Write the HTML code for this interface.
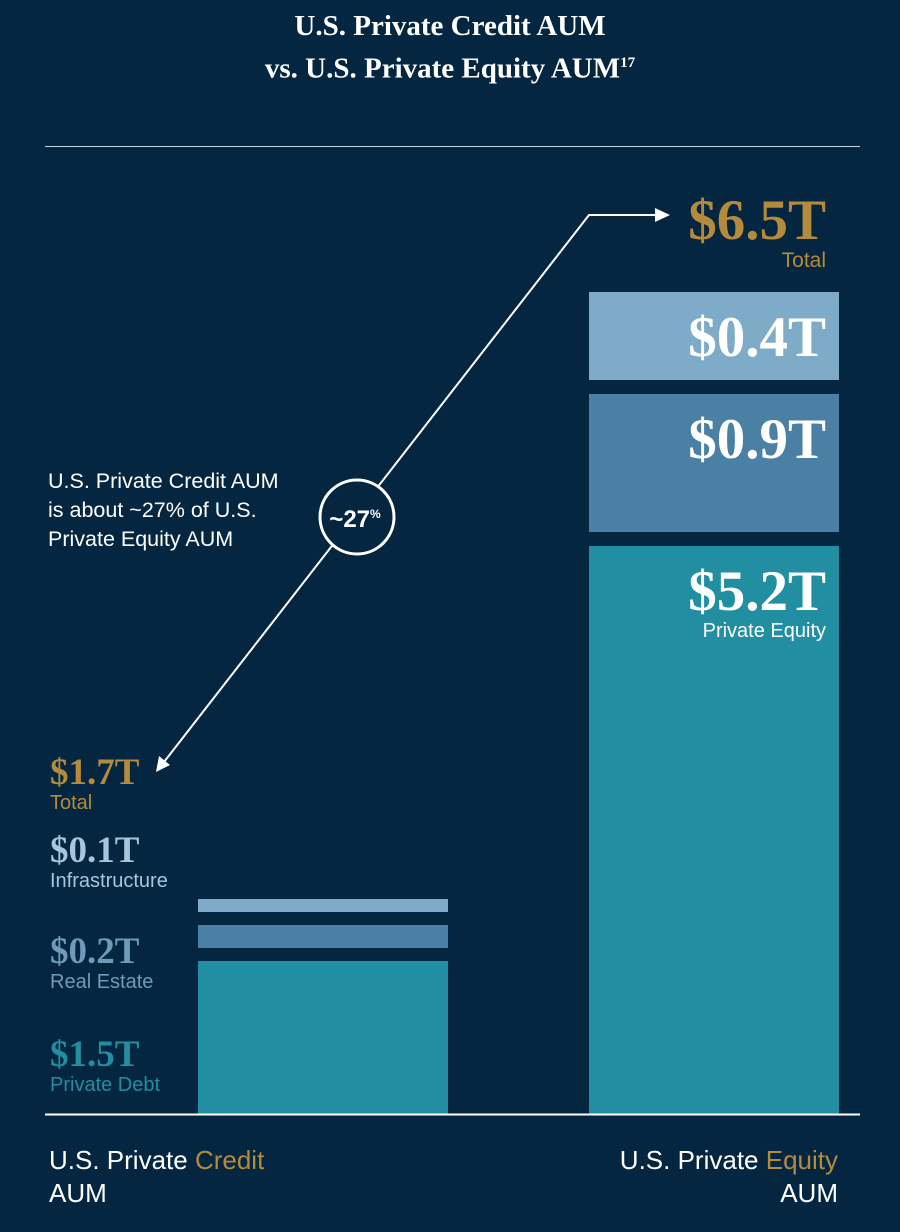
<!DOCTYPE html>
<html><head><meta charset="utf-8"><style>
body{margin:0;background:#042640;}
#c{position:relative;width:900px;height:1232px;background:#042640;overflow:hidden;font-family:"Liberation Sans",sans-serif;}
.t{position:absolute;white-space:nowrap;}
.serif{font-family:"Liberation Serif",serif;font-weight:bold;}
</style></head><body>
<div id="c">
<div class="t serif" style="left:0;width:900px;text-align:center;top:8px;color:#fff;font-size:29px;line-height:37px;">U.S. Private Credit AUM<br>vs. U.S. Private Equity AUM<sup style="font-size:15px;">17</sup></div>
<div style="position:absolute;left:45px;top:146px;width:815px;height:1px;background:#c9d3dc;"></div>
<svg id="svg" width="900" height="1232" style="position:absolute;left:0;top:0;">
 <g id="bars"></g>
 <line x1="45" y1="1114.5" x2="860" y2="1114.5" stroke="#fff" stroke-width="2"/>
 <polyline points="658,215 589,215 164,762" fill="none" stroke="#fff" stroke-width="2"/>
 <polygon points="670,215 655,208 655,222" fill="#fff"/>
 <polygon points="156,772 159,756 170,765" fill="#fff"/>
 <circle cx="357" cy="517" r="37" fill="#042640" stroke="#fff" stroke-width="3"/>
 <text x="355" y="527" text-anchor="middle" fill="#fff" font-family="Liberation Sans" font-weight="bold" font-size="24">~27<tspan font-size="12" dy="-9">%</tspan></text>
</svg>
<div class="t" style="left:48px;top:467px;color:#fff;font-size:21.5px;line-height:29px;">U.S. Private Credit AUM<br>is about ~27% of U.S.<br>Private Equity AUM</div>
<div class="t" style="left:49px;top:1144px;color:#fff;font-size:26px;line-height:33px;">U.S. Private <span style="color:#b48a3c">Credit</span><br>AUM</div>
<div class="t" style="right:62px;top:1144px;color:#fff;font-size:26px;line-height:33px;text-align:right;">U.S. Private <span style="color:#b48a3c">Equity</span><br>AUM</div>
<div id="labels"></div>
</div>
<script>
const creditCategories = ["Private Debt","Real Estate","Infrastructure"];
const creditValues = [1.5,0.2,0.1];
const creditTotal = 1.7;
const equityCategories = ["Private Equity","",""];
const equityValues = [5.2,0.9,0.4];
const equityTotal = 6.5;
const colors = ["#218ea2","#4a80a3","#7eabc8"];
const creditLabelColors = ["#218ea2","#6f9bbb","#a7c6dc"];
const K = 100, BASE = 1114;
function h(v,off){return Math.max(12, off + v*K);}
const svgNS="http://www.w3.org/2000/svg";
const g=document.getElementById('bars'), L=document.getElementById('labels');
function fmt(v){return "$"+v.toFixed(1)+"T";}
function addLabel(name,html,style){
  const d=document.createElement('div');
  d.className='t';
  
  
  d.innerHTML=html;d.style.cssText=style;L.appendChild(d);return d;
}
function drawBar(x,w,vals,gap,off,side){
  let y=BASE; const tops=[];
  vals.forEach((v,i)=>{
    const hh=h(v,off); const top=y-hh;
    const r=document.createElementNS(svgNS,'rect');
    r.setAttribute('x',x);r.setAttribute('y',top);r.setAttribute('width',w);r.setAttribute('height',hh);
    r.setAttribute('fill',colors[i]);
    
    
    g.appendChild(r); tops.push(top); y=top-gap;
  });
  return tops;
}
const ct=drawBar(198,250,creditValues,13,3,'credit');
const et=drawBar(589,250,equityValues,14,48,'equity');
et.forEach((top,i)=>{
  addLabel('equity-value-'+i,'<div class="serif" style="font-size:57px;line-height:56px;">'+fmt(equityValues[i])+'</div>'+(equityCategories[i]?'<div style="font-size:20px;text-align:right;margin-top:0px;">'+equityCategories[i]+'</div>':''),
   'right:74px;top:'+(top+18)+'px;color:#fff;text-align:right;');
});
addLabel('equity-total','<div class="serif" style="font-size:57px;line-height:56px;">'+fmt(equityTotal)+'</div><div style="font-size:21px;text-align:right;">Total</div>','right:74px;top:'+(et[2]-99)+'px;color:#b48a3c;text-align:right;');
const cy=[1036,933,832];
creditValues.forEach((v,i)=>{
  addLabel('credit-value-'+i,'<div class="serif" style="font-size:37px;line-height:38px;">'+fmt(v)+'</div><div style="font-size:20px;">'+creditCategories[i]+'</div>',
   'left:50px;top:'+cy[i]+'px;color:'+creditLabelColors[i]+';');
});
addLabel('credit-total','<div class="serif" style="font-size:37px;line-height:38px;">'+fmt(creditTotal)+'</div><div style="font-size:20px;">Total</div>','left:50px;top:754px;color:#b48a3c;');
</script>
</body></html>
